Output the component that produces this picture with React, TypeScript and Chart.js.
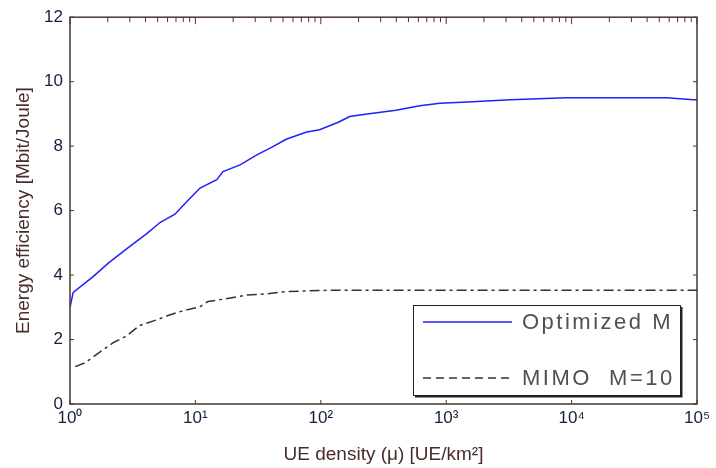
import React, { useEffect, useRef } from "react";
import { Chart, registerables } from "chart.js";

Chart.register(...registerables);

// UE density values (UE/km^2) and energy efficiency (Mbit/Joule)
const OPT_X = [1, 1.06, 1.53, 2.02, 3.0, 4.07, 5.22, 6.87, 9.06, 10.9, 14.8, 16.6, 22.7, 30.9, 39.4, 53.5, 77.3, 97.7, 138, 170, 234, 398, 617, 891, 1622, 3236, 9120, 57544, 93325, 100000];
const OPT_Y = [3.0, 3.46, 3.95, 4.37, 4.89, 5.28, 5.63, 5.89, 6.38, 6.70, 6.96, 7.21, 7.42, 7.73, 7.94, 8.22, 8.44, 8.51, 8.74, 8.92, 9.0, 9.11, 9.25, 9.33, 9.38, 9.44, 9.50, 9.50, 9.44, 9.44];

const MIMO_X = [1.1, 1.32, 1.74, 2.21, 2.82, 3.57, 4.9, 5.89, 7.76, 10.9, 12.6, 16.6, 25.7, 37.2, 53.7, 117, 380, 3162, 100000];
const MIMO_Y = [1.16, 1.28, 1.62, 1.90, 2.11, 2.43, 2.61, 2.73, 2.88, 3.02, 3.18, 3.25, 3.38, 3.42, 3.49, 3.53, 3.53, 3.53, 3.53];

const SERIES_LABELS = ["Optimized M", "MIMO  M=10"];
const X_TICKS = [1, 10, 100, 1000, 10000, 100000];
const X_TICK_LABELS = ["10⁰", "10¹", "10²", "10³", "10⁴", "10⁵"];
const Y_TICKS = [0, 2, 4, 6, 8, 10, 12];
const X_TITLE = "UE density (μ) [UE/km²]";
const Y_TITLE = "Energy efficiency [Mbit/Joule]";

const BLUE = "#1f1fff";
const BLACK = "#333333";
const FRAME = "#4b3535";
const TICK_COLOR = "#1c1c3c";
const TITLE_COLOR = "#4a2c2c";
const MIMO_DASH = [10, 4, 3, 4];
const FONT = '"Liberation Sans", Arial, sans-serif';

const framePlugin = {
  id: "framePlugin",
  afterDatasetsDraw(chart: any) {
    const { ctx, chartArea } = chart;
    const { left, right, top, bottom } = chartArea;
    const xs = chart.scales.x;
    const ys = chart.scales.y;
    ctx.save();
    ctx.strokeStyle = FRAME;
    ctx.lineWidth = 1.5;
    ctx.setLineDash([]);
    ctx.strokeRect(left, top, right - left, bottom - top);
    ctx.lineWidth = 1;
    ctx.beginPath();
    for (let d = 0; d < 5; d++) {
      for (let k = 2; k <= 9; k++) {
        const px = xs.getPixelForValue(k * Math.pow(10, d));
        ctx.moveTo(px, top);
        ctx.lineTo(px, top + 5);
      }
    }
    X_TICKS.forEach((v) => {
      const px = xs.getPixelForValue(v);
      ctx.moveTo(px, top);
      ctx.lineTo(px, top + 7);
      ctx.moveTo(px, bottom);
      ctx.lineTo(px, bottom - 4);
    });
    Y_TICKS.forEach((v) => {
      const py = ys.getPixelForValue(v);
      ctx.moveTo(left, py);
      ctx.lineTo(left + 4, py);
      ctx.moveTo(right, py);
      ctx.lineTo(right - 4, py);
    });
    ctx.stroke();

    // legend box
    const bx = 413, by = 305, bw = 267, bh = 90;
    ctx.fillStyle = "#ffffff";
    ctx.fillRect(bx, by, bw, bh);
    ctx.strokeStyle = "#222";
    ctx.lineWidth = 1;
    ctx.strokeRect(bx + 0.5, by + 0.5, bw, bh);
    ctx.lineWidth = 2;
    ctx.beginPath();
    ctx.moveTo(bx + bw + 1.5, by + 2);
    ctx.lineTo(bx + bw + 1.5, by + bh + 1.5);
    ctx.lineTo(bx + 2, by + bh + 1.5);
    ctx.stroke();

    const rows = [
      { y: 322, color: BLUE, dash: [] as number[], label: SERIES_LABELS[0] },
      { y: 378, color: BLACK, dash: [8, 5], label: SERIES_LABELS[1] },
    ];
    ctx.font = `22px ${FONT}`;
    (ctx as any).letterSpacing = "2.5px";
    ctx.textBaseline = "middle";
    ctx.textAlign = "left";
    rows.forEach((r) => {
      ctx.strokeStyle = r.color;
      ctx.lineWidth = 1.5;
      ctx.setLineDash(r.dash);
      ctx.beginPath();
      ctx.moveTo(423, r.y);
      ctx.lineTo(512, r.y);
      ctx.stroke();
      ctx.setLineDash([]);
      ctx.fillStyle = "#505050";
      ctx.fillText(r.label, 522, r.y + 1);
    });
    ctx.restore();
  },
};

export default function App() {
  const ref = useRef<HTMLCanvasElement>(null);
  useEffect(() => {
    document.body.style.margin = "0";
    const canvas = ref.current!;
    const chart = new Chart(canvas, {
      type: "line",
      data: {
        datasets: [
          {
            label: SERIES_LABELS[0],
            data: OPT_X.map((x, i) => ({ x, y: OPT_Y[i] })),
            borderColor: BLUE,
            borderWidth: 1.5,
            pointRadius: 0,
            tension: 0,
            fill: false,
          },
          {
            label: SERIES_LABELS[1],
            data: MIMO_X.map((x, i) => ({ x, y: MIMO_Y[i] })),
            borderColor: BLACK,
            borderWidth: 1.5,
            borderDash: MIMO_DASH,
            pointRadius: 0,
            tension: 0,
            fill: false,
          },
        ],
      },
      options: {
        responsive: false,
        animation: false,
        events: [],
        layout: { padding: { top: 16, right: 19, left: 0, bottom: 0 } },
        plugins: { legend: { display: false }, tooltip: { enabled: false } },
        scales: {
          x: {
            type: "logarithmic",
            min: 1,
            max: 100000,
            grid: { display: false, drawTicks: false },
            border: { display: false },
            afterBuildTicks: (s: any) => {
              s.ticks = X_TICKS.map((v) => ({ value: v }));
            },
            afterFit: (s: any) => {
              s.height = 64;
            },
            ticks: {
              autoSkip: false,
              maxRotation: 0,
              padding: 4,
              color: TICK_COLOR,
              font: { family: FONT, size: 17 },
              callback: (v: any) => {
                const i = X_TICKS.indexOf(Number(v));
                return i >= 0 ? X_TICK_LABELS[i] : "";
              },
            },
            title: {
              display: true,
              text: X_TITLE,
              color: TITLE_COLOR,
              font: { family: FONT, size: 19 },
              padding: { top: 0, bottom: 2 },
            },
          },
          y: {
            min: 0,
            max: 12,
            grid: { display: false, drawTicks: false },
            border: { display: false },
            afterBuildTicks: (s: any) => {
              s.ticks = Y_TICKS.map((v) => ({ value: v }));
            },
            afterFit: (s: any) => {
              s.width = 70;
            },
            ticks: {
              padding: 7,
              color: TICK_COLOR,
              font: { family: FONT, size: 17 },
            },
            title: {
              display: true,
              text: Y_TITLE,
              color: TITLE_COLOR,
              font: { family: FONT, size: 19 },
              padding: { top: 12, bottom: 0 },
            },
          },
        },
      },
      plugins: [framePlugin],
    });
    return () => chart.destroy();
  }, []);
  return (
    <div style={{ width: 716, height: 468 }}>
      <canvas ref={ref} width={716} height={468} />
    </div>
  );
}
